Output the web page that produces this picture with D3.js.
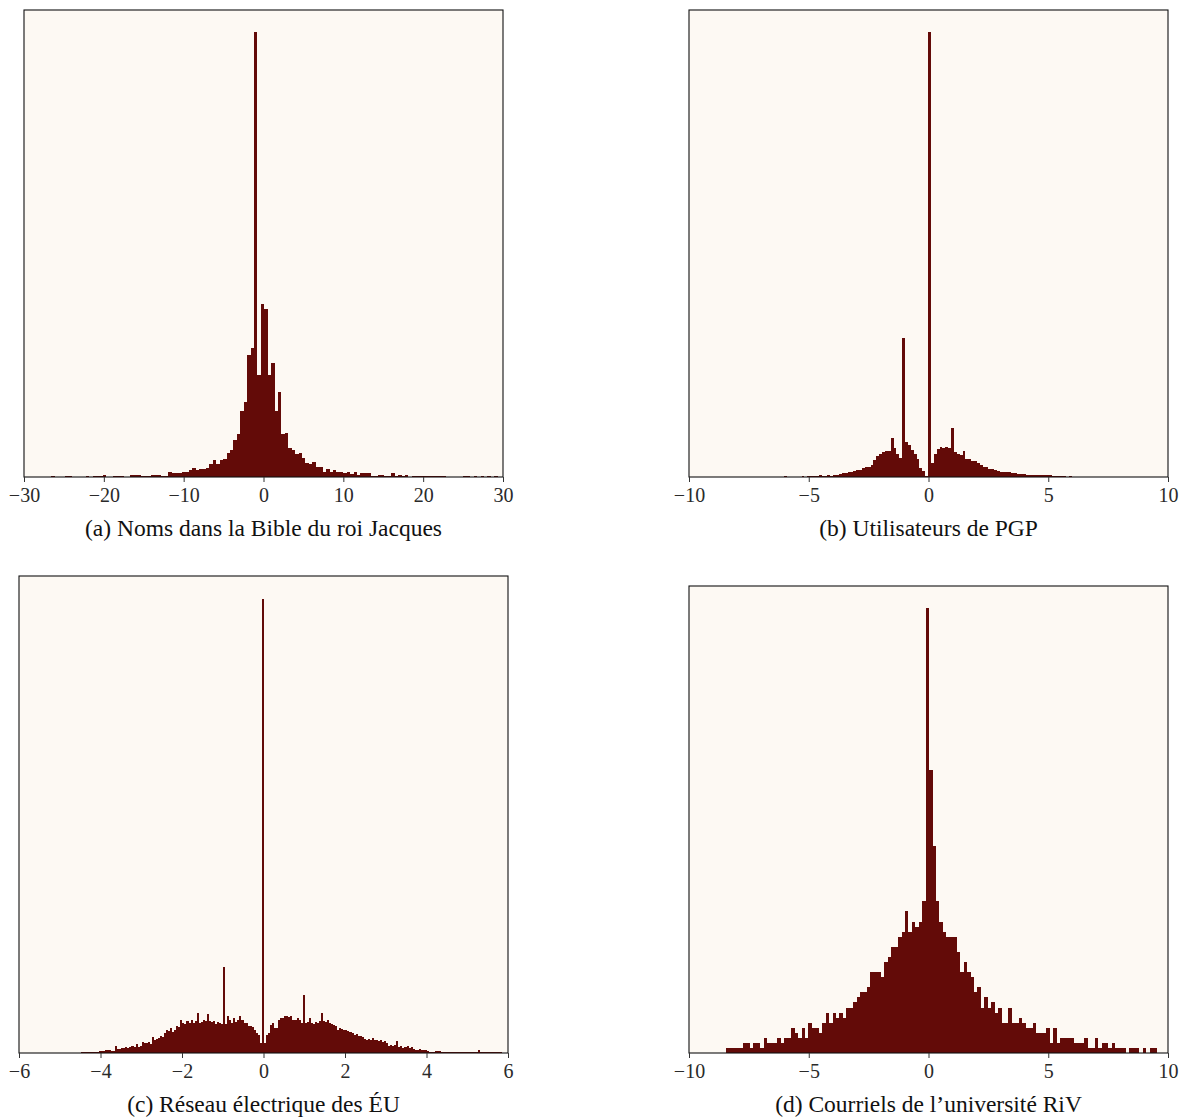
<!DOCTYPE html>
<html>
<head>
<meta charset="utf-8">
<script src="https://cdn.jsdelivr.net/npm/d3@7"></script>
<style>
  html, body { margin: 0; padding: 0; background: #ffffff; }
  svg { display: block; }
  .tick text { font-family: "Liberation Serif", serif; }
</style>
</head>
<body>
<svg id="chart" width="1187" height="1118"></svg>
<script>
// ---------------- DATA ----------------
// Panel (a): Noms dans la Bible du roi Jacques
const aTitle = "(a) Noms dans la Bible du roi Jacques";
const aBinStart = -30.0;
const aBinWidth = 0.43;
const aCounts = [
  0,0,0,0,0,0,0,0,3,0,
  0,0,3,3,0,0,0,0,3,0,
  3,3,3,5,0,0,3,3,3,0,
  0,6,6,6,3,3,3,6,6,6,
  3,3,14,12,12,12,14,14,22,28,
  20,25,25,28,40,52,40,50,55,72,
  82,112,130,198,225,366,385,1332,305,517,
  502,304,340,198,256,130,133,88,82,70,
  73,58,42,38,44,30,30,16,24,16,
  22,16,16,12,16,8,14,5,12,12,
  12,3,3,6,6,3,3,12,3,6,
  3,6,0,3,3,3,3,3,3,3,
  3,3,3,0,0,0,0,0,3,3,
  0,3,0,3,0,3,0,3,0,0
];
const aTicks = [-30, -20, -10, 0, 10, 20, 30];
const aDomain = [-30, 30];

// Panel (b): Utilisateurs de PGP
const bTitle = "(b) Utilisateurs de PGP";
const bBinStart = -6.02;
const bBinWidth = 0.12;
const bCounts = [
  4,0,0,0,0,0,4,0,4,4,
  4,4,7,4,4,7,4,7,7,10,
  12,12,15,15,17,22,22,27,30,30,
  37,50,62,70,75,77,79,118,87,70,
  57,417,105,95,80,70,54,27,17,3,
  1332,42,70,85,89,87,91,87,148,75,
  70,67,79,55,55,48,47,42,37,29,
  29,24,24,22,18,15,15,15,15,12,
  12,10,10,10,7,7,7,7,5,5,
  5,5,7,4,4,4,4,4,0,4
];
const bTicks = [-10, -5, 0, 5, 10];
const bDomain = [-10, 10];

// Panel (c): Réseau électrique des ÉU
const cTitle = "(c) Réseau électrique des ÉU";
const cBinStart = -4.54;
const cBinWidth = 0.05;
const cCounts = [
  0,2,3,3,2,3,3,2,3,3,
  5,5,6,10,8,10,5,6,20,12,
  12,14,15,18,16,18,20,18,28,18,
  20,33,30,30,34,28,47,40,42,45,
  50,48,60,70,66,76,64,70,80,78,
  100,90,88,95,90,100,90,95,120,90,
  92,100,96,118,95,92,95,88,92,90,
  88,258,88,110,100,90,105,92,100,110,
  100,90,90,82,80,78,70,60,55,30,
  1365,30,55,60,85,90,75,75,100,105,
  105,110,112,108,110,100,98,105,100,90,
  175,90,92,105,90,88,92,90,95,120,
  95,92,98,90,88,85,82,70,75,72,
  68,70,65,62,60,55,58,52,50,48,
  42,40,42,38,45,38,38,35,40,32,
  35,30,22,25,20,24,35,18,20,15,
  18,20,15,18,12,10,10,12,8,10,
  8,6,3,3,3,6,6,5,3,4,
  3,4,3,3,3,3,2,3,3,3,
  3,2,3,3,3,3,8,2,2,2,
  2,2,2,2,2,2,2,2
];
const cTicks = [-6, -4, -2, 0, 2, 4, 6];
const cDomain = [-6, 6];

// Panel (d): Courriels de l'université RiV
const dTitle = "(d) Courriels de l\u2019université RiV";
const dBinStart = -8.47;
const dBinWidth = 0.144;
const dCounts = [
  1,1,1,1,1,2,2,1,2,2,
  1,3,2,2,2,3,2,3,3,5,
  4,3,5,3,6,5,5,4,6,8,
  6,8,7,8,7,9,9,10,11,12,
  12,13,16,16,16,15,18,19,21,21,
  23,24,28,24,26,25,26,30,88,56,
  41,30,26,24,23,23,23,20,16,18,
  16,15,12,13,9,11,9,10,8,9,
  6,6,9,6,6,7,6,5,5,6,
  4,4,4,5,2,5,2,3,3,3,
  3,2,2,2,3,1,1,3,1,2,
  2,1,2,1,1,1,0,1,1,1,
  0,1,0,1,1
];
const dTicks = [-10, -5, 0, 5, 10];
const dDomain = [-10, 10];

// ---------------- DRAWING ----------------
const BAR_COLOR = "#630b08";
const BG_COLOR = "#fdf9f3";
const svg = d3.select("#chart");

function panel(cfg) {
  const { left, right, top, bottom, domain, ticks, binStart, binWidth, counts, title } = cfg;
  const g = svg.append("g");
  const x = d3.scaleLinear().domain(domain).range([left, right]);
  const maxC = d3.max(counts);
  const y = d3.scaleLinear().domain([0, maxC * 1.05]).range([bottom, top]);

  g.append("rect")
    .attr("x", left).attr("y", top)
    .attr("width", right - left).attr("height", bottom - top)
    .attr("fill", BG_COLOR);

  const bins = counts.map((c, i) => ({ x0: binStart + i * binWidth, x1: binStart + (i + 1) * binWidth, c }))
    .filter(d => d.c > 0);

  g.append("g").selectAll("rect").data(bins).join("rect")
    .attr("x", d => x(d.x0))
    .attr("width", d => Math.max(0.5, x(d.x1) - x(d.x0)))
    .attr("y", d => y(d.c))
    .attr("height", d => y(0) - y(d.c))
    .attr("fill", BAR_COLOR)
    .attr("shape-rendering", "crispEdges");

  // frame
  g.append("rect")
    .attr("x", left).attr("y", top)
    .attr("width", right - left).attr("height", bottom - top)
    .attr("fill", "none").attr("stroke", "#111").attr("stroke-width", 1.1);

  const axis = d3.axisBottom(x).tickValues(ticks).tickSize(5).tickPadding(6)
    .tickFormat(d3.format("d"));
  const ag = g.append("g").attr("transform", `translate(0,${bottom})`).call(axis);
  ag.select(".domain").remove();
  ag.selectAll(".tick line").attr("stroke", "#333").attr("stroke-width", 1);
  ag.selectAll(".tick text")
    .attr("fill", "#2a2a2a")
    .style("font-family", "'Liberation Serif', serif")
    .style("font-size", "20px");

  g.append("text")
    .attr("x", (left + right) / 2)
    .attr("y", bottom + 59)
    .attr("text-anchor", "middle")
    .style("font-family", "'Liberation Serif', 'Times New Roman', serif")
    .style("font-size", "23.5px")
    .attr("fill", "#111")
    .text(title);
}

panel({ left: 24, right: 503, top: 10, bottom: 477, domain: aDomain, ticks: aTicks,
        binStart: aBinStart, binWidth: aBinWidth, counts: aCounts, title: aTitle });
panel({ left: 689, right: 1168, top: 10, bottom: 477, domain: bDomain, ticks: bTicks,
        binStart: bBinStart, binWidth: bBinWidth, counts: bCounts, title: bTitle });
panel({ left: 19, right: 508, top: 576, bottom: 1053, domain: cDomain, ticks: cTicks,
        binStart: cBinStart, binWidth: cBinWidth, counts: cCounts, title: cTitle });
panel({ left: 689, right: 1168, top: 586, bottom: 1053, domain: dDomain, ticks: dTicks,
        binStart: dBinStart, binWidth: dBinWidth, counts: dCounts, title: dTitle });
</script>
</body>
</html>
